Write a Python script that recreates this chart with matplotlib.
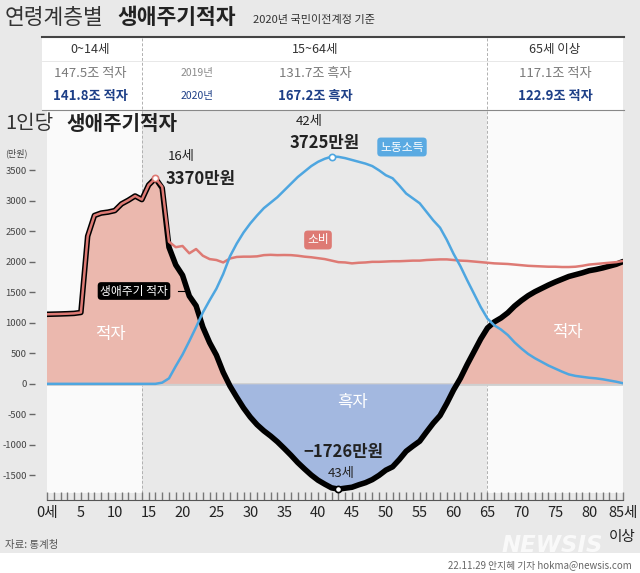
import matplotlib
matplotlib.use("Agg")
import matplotlib.pyplot as plt
from matplotlib.lines import Line2D
from matplotlib.patches import Rectangle
import numpy as np

plt.rcParams['font.family'] = ['Noto Sans CJK KR', 'DejaVu Sans']
plt.rcParams['axes.unicode_minus'] = False

# 1인당 생애주기 (만원), 0세 ~ 85세 이상
ages = list(range(86))
consumption = [1140, 1143, 1146, 1150, 1155, 1170, 2420, 2760, 2800, 2815,
               2840, 2950, 3010, 3080, 3020, 3260, 3370, 3230, 2330, 2240,
               2260, 2140, 2210, 2100, 2045, 2030, 1990, 2055, 2080, 2085,
               2085, 2090, 2110, 2115, 2110, 2112, 2110, 2100, 2085, 2075,
               2060, 2045, 2020, 1995, 1990, 1975, 1985, 1990, 2000, 2000,
               2005, 2010, 2010, 2015, 2020, 2020, 2030, 2035, 2040, 2040,
               2030, 2020, 2015, 2005, 1995, 1985, 1975, 1970, 1965, 1955,
               1945, 1935, 1930, 1925, 1920, 1920, 1915, 1915, 1920, 1935,
               1955, 1965, 1975, 1985, 1995, 2015]
labor_income = [0, 0, 0, 0, 0, 0, 0, 0, 0, 0,
                0, 0, 0, 0, 0, 0, 0, 20, 90, 290,
                480, 700, 930, 1170, 1370, 1560, 1800, 2090, 2300, 2480,
                2630, 2760, 2880, 2970, 3060, 3170, 3280, 3390, 3480, 3570,
                3640, 3690, 3725, 3721, 3700, 3670, 3640, 3610, 3570, 3500,
                3420, 3370, 3250, 3120, 3040, 2960, 2820, 2680, 2560, 2360,
                2130, 1930, 1700, 1480, 1260, 1070, 960, 890, 800, 680,
                580, 490, 420, 360, 300, 250, 200, 155, 130, 115,
                100, 90, 75, 55, 35, 10]

x_ticks = list(range(0, 86, 5))
x_labels = ['0세'] + [str(a) for a in x_ticks[1:-1]] + ['85세']
y_ticks = list(range(-1500, 3501, 500))

groups = ['0~14세', '15~64세', '65세 이상']
totals_2019 = ['147.5조 적자', '131.7조 흑자', '117.1조 적자']
totals_2020 = ['141.8조 적자', '167.2조 흑자', '122.9조 적자']

BG = '#e9e9e9'
PANEL = '#fafafa'
RED = '#de7a74'
PINK = '#ebb8ae'
BLUE = '#4ea6e0'
NAVY = '#a3b8e0'
DARKBLUE = '#1d3f87'

W, H = 640, 573


def fx(px):
    return px / W


def fy(py):
    return 1 - py / H


fig = plt.figure(figsize=(6.4, 5.73), dpi=100, facecolor=BG)

# footer band and table background
fig.patches.append(Rectangle((0, 0), 1, fy(553), transform=fig.transFigure,
                             facecolor='white', edgecolor='none', zorder=0))
fig.patches.append(Rectangle((fx(42), fy(110)), fx(623) - fx(42), fy(37) - fy(110),
                             transform=fig.transFigure, facecolor='white',
                             edgecolor='none', zorder=0))
fig.lines.append(Line2D([fx(42), fx(624)], [fy(37), fy(37)], transform=fig.transFigure,
                        color='#444444', lw=1.5))
fig.lines.append(Line2D([fx(42), fx(624)], [fy(110), fy(110)], transform=fig.transFigure,
                        color='#888888', lw=0.8))
fig.lines.append(Line2D([fx(42), fx(624)], [fy(61), fy(61)], transform=fig.transFigure,
                        color='#e4e4e4', lw=0.6))
for xp in (142, 487):
    fig.lines.append(Line2D([fx(xp), fx(xp)], [fy(38), fy(110)], transform=fig.transFigure,
                            color='#b0b0b0', lw=0.7, ls=(0, (3, 2))))

# titles
fig.text(fx(5), fy(18), '연령계층별', fontsize=15.5, color='#333333', va='center')
fig.text(fx(117), fy(18), '생애주기적자', fontsize=15.5, fontweight='bold', color='#222222', va='center')
fig.text(fx(253), fy(20), '2020년 국민이전계정 기준', fontsize=8, color='#333333', va='center')

# table
col_x = [90, 315, 555]
for cx, g, a, b in zip(col_x, groups, totals_2019, totals_2020):
    fig.text(fx(cx), fy(49), g, fontsize=9, color='#333333', ha='center', va='center')
    fig.text(fx(cx), fy(73), a, fontsize=9.5, color='#7a7a7a', ha='center', va='center')
    fig.text(fx(cx), fy(96), b, fontsize=9.5, color=DARKBLUE, ha='center', va='center',
             fontweight='bold')
fig.text(fx(197), fy(73), '2019년', fontsize=7.5, color='#8a8a8a', ha='center', va='center')
fig.text(fx(197), fy(96), '2020년', fontsize=7.5, color=DARKBLUE, ha='center', va='center')

# chart
ax = fig.add_axes([fx(47), fy(500), fx(623) - fx(47), fy(110) - fy(500)])
ax.set_facecolor('none')
ax.set_xlim(0, 85)
ax.set_ylim(-1904, 4489)

bottom_frac = 7 / 390
ax.axvspan(0, 14, ymin=bottom_frac, ymax=1, color=PANEL, zorder=0, lw=0)
ax.axvspan(65, 85, ymin=bottom_frac, ymax=1, color=PANEL, zorder=0, lw=0)
for xv in (14, 65):
    ax.axvline(xv, ymin=bottom_frac, color='#b0b0b0', lw=0.7, ls=(0, (3, 2)), zorder=1)

cons = np.array(consumption)
labor = np.array(labor_income)
deficit = cons - labor

ax.axhline(0, color='#cfcfcf', lw=2, zorder=1)
ax.fill_between(ages, deficit, 0, where=deficit >= 0, interpolate=True,
                color=PINK, lw=0, zorder=2)
ax.fill_between(ages, deficit, 0, where=deficit <= 0, interpolate=True,
                color=NAVY, lw=0, zorder=2)
ax.plot(ages, deficit, color='black', lw=4, solid_capstyle='round',
        solid_joinstyle='round', zorder=3)
ax.plot(ages, consumption, color=RED, lw=1.8, zorder=4)
ax.plot(ages, labor_income, color=BLUE, lw=1.8, zorder=5)

ax.plot(16, consumption[16], 'o', mfc='white', mec=RED, ms=4.5, mew=1.2, zorder=6)
ax.plot(42, labor_income[42], 'o', mfc='white', mec=BLUE, ms=4.5, mew=1.2, zorder=6)
ax.plot(43, deficit[43], 'o', mfc='white', mec='black', ms=4.5, mew=1.2, zorder=6)

for s in ('top', 'right'):
    ax.spines[s].set_visible(False)
ax.spines['bottom'].set_color('#555555')
ax.spines['left'].set_position(('outward', 8.5))
ax.spines['left'].set_visible(False)

ax.set_xticks(x_ticks)
ax.set_xticklabels(x_labels)
ax.set_xticks(ages, minor=True)
ax.tick_params(axis='x', which='both', direction='in', length=6, width=1,
               color='#777777', labelsize=10.5, labelcolor='#222222', pad=4)
ax.set_yticks(y_ticks)
ax.set_yticklabels([str(v) for v in y_ticks])
ax.tick_params(axis='y', direction='out', length=4.5, width=1, color='#666666',
               labelsize=6.8, labelcolor='#444444', pad=1.5)

# chart texts
fig.text(fx(5), fy(124), '1인당', fontsize=14.5, color='#333333', va='center')
fig.text(fx(66), fy(124), '생애주기적자', fontsize=14.5, fontweight='bold', color='#222222', va='center')
fig.text(fx(5), fy(153), '(만원)', fontsize=6.5, color='#444444', va='center')
fig.text(fx(636), fy(537), '이상', fontsize=10.5, color='#222222', ha='right', va='center')

fig.text(fx(168), fy(156), '16세', fontsize=9.5, color='#222222', va='center')
fig.text(fx(166), fy(179), '3370만원', fontsize=12, fontweight='bold', color='#222222', va='center')
fig.text(fx(309), fy(121), '42세', fontsize=9.5, color='#222222', ha='center', va='center')
fig.text(fx(325), fy(143), '3725만원', fontsize=12, fontweight='bold', color='#222222',
         ha='center', va='center')
fig.text(fx(343), fy(452), '−1726만원', fontsize=12, fontweight='bold', color='#222222',
         ha='center', va='center')
fig.text(fx(341), fy(473), '43세', fontsize=9.5, color='#222222', ha='center', va='center')

fig.text(fx(402), fy(147), '노동소득', fontsize=8.5, color='white', ha='center', va='center',
         bbox=dict(boxstyle='round,pad=0.25,rounding_size=0.3', fc='#5aaae2', ec='none'))
fig.text(fx(318), fy(240), '소비', fontsize=8.5, color='white', ha='center', va='center',
         bbox=dict(boxstyle='round,pad=0.25,rounding_size=0.3', fc=RED, ec='none'))
fig.text(fx(134), fy(291), '생애주기 적자', fontsize=8.5, color='white', ha='center', va='center',
         bbox=dict(boxstyle='round,pad=0.2,rounding_size=0.3', fc='black', ec='none'))
fig.lines.append(Line2D([fx(178), fx(187)], [fy(291), fy(291)], transform=fig.transFigure,
                        color='black', lw=0.8))

fig.text(fx(110), fy(334), '적자', fontsize=12, color='white', ha='center', va='center')
fig.text(fx(567), fy(333), '적자', fontsize=12, color='white', ha='center', va='center')
fig.text(fx(352), fy(403), '흑자', fontsize=12, color='white', ha='center', va='center')

# footer
fig.text(fx(5), fy(545), '자료: 통계청', fontsize=7.5, color='#555555', va='center')
fig.text(fx(552), fy(545), 'NEWSIS', fontsize=16.5, fontweight='bold', fontstyle='italic',
         color='white', alpha=0.75, ha='center', va='center', family='DejaVu Sans')
fig.text(fx(632), fy(565), '22.11.29 안지혜 기자 hokma@newsis.com', fontsize=7,
         color='#666666', ha='right', va='center')

fig.savefig('out.png', dpi=100, facecolor=BG)
